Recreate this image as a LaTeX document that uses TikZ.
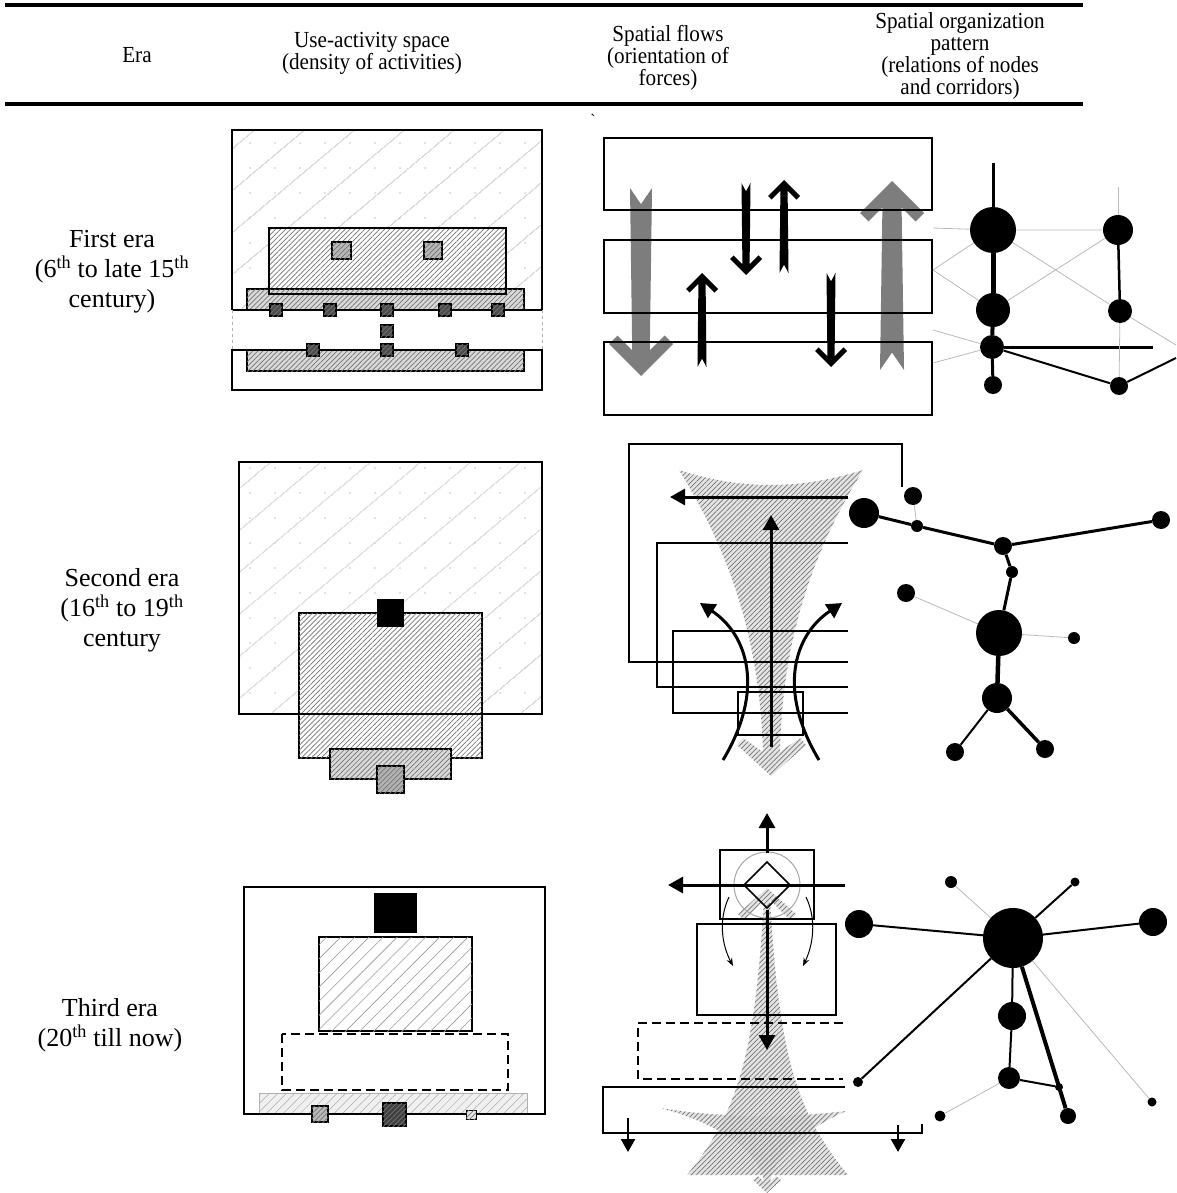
\documentclass[tikz,border=0pt]{standalone}
\usepackage{fontspec}
\setmainfont{Liberation Serif}
\newfontfamily\hdrfont[FakeStretch=0.92]{Liberation Serif}
\usetikzlibrary{arrows.meta,patterns.meta}
\pgfdeclarelayer{bg}
\pgfsetlayers{bg,main}

\tikzset{
  hdr/.style={font=\hdrfont\fontsize{23}{22}\selectfont, align=center, inner sep=0pt},
  eralabel/.style={font=\fontsize{26}{30}\selectfont, align=center, inner sep=0pt},
  sparsehatch/.style={pattern={Lines[angle=40,distance=33pt,line width=0.7pt]}, pattern color=gray!80},
  dotgrid/.style={pattern={Dots[distance=25pt,radius=0.8pt]}, pattern color=gray!45},
  densehatch/.style={pattern={Lines[angle=45,distance=3.5pt,line width=0.7pt]}, pattern color=black!55},
  block/.style={draw, line width=2pt, fill=white, postaction={densehatch}},
  stripbox/.style={draw, line width=1.8pt, fill=gray!30, postaction={densehatch}},
  cell/.style={draw, line width=1.2pt, fill=#1, postaction={densehatch}},
  city/.style={circle, fill=black, inner sep=0pt, minimum size=#1},
  road/.style={line width=#1},
  link/.style={draw=gray!55, line width=0.8pt},
  force/.style={line width=3pt, -{Triangle[length=15pt,width=16pt]}},
  flowzone/.style={fill=gray!30, fill opacity=0.7, postaction={densehatch}},
}

% x, tail y, tip y, half shaft, half head, arm width, fill options
\newcommand{\fatarrow}[7]{%
  \pgfmathsetmacro{\fs}{(#3-(#2))/abs(#3-(#2))}%
  \pgfmathsetmacro{\fn}{#2+\fs*(1.2*#4+3)}%
  \pgfmathsetmacro{\fj}{#3-\fs*(1.414*#6+0.8*#4)}%
  \pgfmathsetmacro{\fax}{#5-0.707*#6}%
  \pgfmathsetmacro{\fay}{#3-\fs*(#5+0.707*#6)}%
  \pgfmathsetmacro{\fby}{#3-\fs*#5}%
  \fill[#7] (#1-#4,#2) -- (#1,\fn) -- (#1+#4,#2) -- (#1+0.8*#4,\fj) -- (#1+\fax,\fay)
    -- (#1+#5,\fby) -- (#1,#3) -- (#1-#5,\fby) -- (#1-\fax,\fay) -- (#1-0.8*#4,\fj) -- cycle;
}

\begin{document}
\begin{tikzpicture}[x=1pt,y=-1pt]
\useasboundingbox (0,0) rectangle (1176,1193);

% header
\draw[line width=4pt] (5,5) -- (1083,5);
\draw[line width=4pt] (5,104) -- (1083,104);
\node[hdr] (hEra) at (137,55) {Era};
\node[hdr] (hUse) at (372,53) {Use-activity space\\(density of activities)};
\node[hdr] (hFlow) at (668,58) {Spatial flows\\(orientation of\\forces)};
\node[hdr] (hOrg) at (960,56) {Spatial organization\\pattern\\(relations of nodes\\and corridors)};
\node[font=\fontsize{16}{16}\selectfont, inner sep=0pt] (tick) at (593,120) {\textasciigrave};

\node[eralabel] (eraOne) at (112,272) {First era\\(6\textsuperscript{th} to late 15\textsuperscript{th}\\century)};
\node[eralabel] (eraTwo) at (122,610) {Second era\\(16\textsuperscript{th} to 19\textsuperscript{th}\\century};
\node[eralabel] (eraThree) at (110,1025) {Third era\\(20\textsuperscript{th} till now)};

% first era: use-activity space
\path[sparsehatch] (232,130) rectangle (542,310);
\path[dotgrid] (232,130) rectangle (542,310);
\draw[line width=2pt] (232,310) -- (232,130) -- (542,130) -- (542,310);
\draw[block] (269,228) rectangle (506,294);
\draw[cell=gray!55] (332,242) rectangle (351,259);
\draw[cell=gray!55] (424,242) rectangle (442,259);
\draw[stripbox] (247,289) rectangle (524,310);
\draw[line width=2pt] (269,228) rectangle (506,294);
\draw[line width=1.5pt] (232,310) -- (542,310);
\draw[stripbox] (247,350) rectangle (524,371);
\draw[line width=2pt] (232,350) rectangle (542,390);
\draw[gray!60, line width=1pt, dashed] (232,310) -- (232,350) (542,310) -- (542,350);
\foreach \x in {276,330,387,445,498}
  \draw[cell=black!70] (\x-6,304) rectangle (\x+6,316);
\foreach \x/\y in {387/331,313/350,387/350,462/350}
  \draw[cell=black!70] (\x-6,\y-6) rectangle (\x+6,\y+6);

% first era: flows
\fatarrow{641}{188}{376}{11}{32}{12}{black!60, fill opacity=0.85}
\fatarrow{892}{370}{181}{12}{32}{12}{black!60, fill opacity=0.85}
\foreach \t/\b in {138/210,240/313,342/415}
  \draw[line width=1.5pt] (604,\t) rectangle (932,\b);
\fatarrow{746}{183}{275}{4.5}{16}{5}{black}
\fatarrow{784}{273}{180}{4.5}{16}{5}{black}
\fatarrow{702}{367}{273}{4.5}{16}{5}{black}
\fatarrow{831}{273}{367}{4.5}{16}{5}{black}

% first era: nodes and corridors
\node[city=46pt] (a1) at (993,230) {};
\node[city=30pt] (a2) at (1118,230) {};
\node[city=34pt] (a3) at (993,310) {};
\node[city=24pt] (a4) at (1120,311) {};
\node[city=24pt] (a5) at (992,347) {};
\node[city=18pt] (a6) at (993,385) {};
\node[city=18pt] (a7) at (1119,386) {};
\coordinate (a1top) at (993,163);
\coordinate (a2top) at (1118,187);
\coordinate (a5end) at (1153,347);
\coordinate (a7end) at (1176,358);
\coordinate (a4end) at (1176,345);
\coordinate (f1) at (933,228);
\coordinate (f2) at (933,270);
\coordinate (f3) at (933,330);
\coordinate (f4) at (933,363);
\begin{pgfonlayer}{bg}
\draw[road=3pt] (a1top) -- (a1);
\draw[road=5pt] (a1) -- (a3);
\draw[road=4pt] (a3) -- (a5);
\draw[road=3pt] (a5) -- (a6);
\draw[road=3pt] (a5) -- (a5end);
\draw[road=2pt] (a5) -- (a7) -- (a7end);
\draw[road=2.5pt] (a2) -- (a4);
\draw[link] (a2top) -- (a2);
\draw[link] (a4) -- (a7);
\draw[link] (f1) -- (a1) (a1) -- (a2);
\draw[link] (a1) -- (a4) (a4) -- (a4end);
\draw[link] (a3) -- (a2);
\draw[link] (f2) -- (a1) (f2) -- (a3);
\draw[link] (f3) -- (a5) (f4) -- (a5);
\end{pgfonlayer}

% second era: use-activity space
\path[sparsehatch] (239,462) rectangle (542,714);
\path[dotgrid] (239,462) rectangle (542,714);
\draw[block] (299,613) rectangle (482,758);
\draw[line width=2pt] (239,462) rectangle (542,714);
\fill (377,599) rectangle (404,627);
\draw[stripbox, line width=1.5pt] (330,749) rectangle (451,779);
\draw[cell=gray!60] (377,766) rectangle (404,793);

% second era: flows
\fill[flowzone] (679,470) .. controls (740,490) and (800,490) .. (863,470)
  .. controls (807,560) and (782,650) .. (780,752) -- (800,738) -- (806,745) -- (771,776)
  -- (737,745) -- (743,738) -- (763,752) .. controls (760,650) and (735,560) .. (679,470) -- cycle;
\draw[line width=1.5pt] (848,662) -- (629,662) -- (629,444) -- (902,444) -- (902,487);
\draw[line width=1.5pt] (848,543) -- (657,543) -- (657,687) -- (848,687);
\draw[line width=1.5pt] (848,631) -- (673,631) -- (673,713) -- (848,713);
\draw[line width=1.2pt] (738,692) rectangle (803,735);
\draw[force] (771,747) -- (771,515);
\draw[force] (848,497) -- (670,497);
\draw[force] (723,760) .. controls (765,690) and (748,635) .. (700,603);
\draw[force] (819,760) .. controls (777,690) and (794,635) .. (842,603);

% second era: nodes and corridors
\node[city=30pt] (b1) at (864,513) {};
\node[city=18pt] (b2) at (913,496) {};
\node[city=12pt] (b3) at (917,526) {};
\node[city=18pt] (b4) at (1003,546) {};
\node[city=12pt] (b5) at (1012,572) {};
\node[city=18pt] (b6) at (1161,520) {};
\node[city=46pt] (b7) at (999,633) {};
\node[city=18pt] (b8) at (906,593) {};
\node[city=12pt] (b9) at (1074,638) {};
\node[city=30pt] (b10) at (997,698) {};
\node[city=18pt] (b11) at (955,752) {};
\node[city=18pt] (b12) at (1045,749) {};
\begin{pgfonlayer}{bg}
\draw[road=3pt] (b1) -- (b3);
\draw[road=3pt] (b3) -- (b4);
\draw[road=3pt] (b4) -- (b6);
\draw[road=3pt] (b4) -- (b5);
\draw[road=3pt] (b5) -- (b7);
\draw[road=4.5pt] (b7) -- (b10);
\draw[road=2pt] (b10) -- (b11);
\draw[road=3.5pt] (b10) -- (b12);
\draw[link] (b2) -- (b3);
\draw[link] (b7) -- (b8);
\draw[link] (b7) -- (b9);
\end{pgfonlayer}

% third era: use-activity space
\fill (374,893) rectangle (417,933);
\draw[line width=2pt, fill=white, postaction={pattern={Lines[angle=45,distance=10pt,line width=0.6pt]}, pattern color=gray!80}] (319,937) rectangle (472,1031);
\draw[line width=2pt, dash pattern=on 9pt off 5pt] (282,1034) rectangle (508,1090);
\draw[gray!60, line width=0.8pt, fill=gray!12, postaction={pattern={Lines[angle=45,distance=6pt,line width=0.5pt]}, pattern color=gray!65}] (259,1093) rectangle (527,1114);
\draw[line width=2pt] (244,887) rectangle (545,1114);
\draw[cell=gray!55] (312,1106) rectangle (328,1122);
\draw[cell=black!75] (383,1103) rectangle (406,1126);
\draw[cell=gray!20, line width=0.8pt] (466,1110) rectangle (476,1119);

% third era: flows
\fill[flowzone] (767,888) -- (796,914) -- (790,920) -- (770,900)
  .. controls (779,1050) and (794,1110) .. (848,1175) -- (687,1175)
  .. controls (740,1110) and (755,1050) .. (764,900) -- (744,920) -- (738,914) -- cycle;
\fill[flowzone] (660,1108) .. controls (720,1118) and (790,1118) .. (846,1111)
  .. controls (815,1125) and (775,1150) .. (770,1182) -- (776,1176) -- (781,1180) -- (767,1193)
  -- (753,1180) -- (758,1176) -- (764,1182) .. controls (759,1150) and (715,1122) .. (660,1108) -- cycle;
\draw[line width=1.5pt] (720,850) rectangle (814,919);
\draw[line width=1.5pt] (697,924) rectangle (836,1015);
\draw[gray!70, line width=1pt] (767,885) circle[radius=33];
\draw[line width=1.5pt] (767,862) -- (790,885) -- (767,908) -- (744,885) -- cycle;
\draw[line width=2pt, dash pattern=on 9pt off 5pt] (843,1023) -- (638,1023) -- (638,1079) -- (843,1079);
\draw[line width=1.5pt] (845,1087) -- (603,1087) -- (603,1133) -- (922,1133) -- (922,1124);
\draw[force] (767,853) -- (767,813);
\draw[force] (845,885) -- (668,885);
\draw[force] (767,910) -- (767,1050);
\draw[line width=2.5pt, -{Triangle[length=13pt,width=14pt]}] (628,1118) -- (628,1152);
\draw[line width=2.5pt, -{Triangle[length=13pt,width=14pt]}] (898,1125) -- (898,1152);
\draw[line width=1pt, -{Stealth[length=8pt,width=6pt]}] (729,897) .. controls (718,920) and (722,945) .. (733,966);
\draw[line width=1pt, -{Stealth[length=8pt,width=6pt]}] (806,897) .. controls (817,920) and (813,945) .. (803,966);

% third era: nodes and corridors
\node[city=60pt] (c1) at (1013,938) {};
\node[city=28pt] (c2) at (859,924) {};
\node[city=28pt] (c3) at (1153,922) {};
\node[city=12pt] (c4) at (951,882) {};
\node[city=9pt] (c5) at (1075,882) {};
\node[city=10pt] (c6) at (858,1082) {};
\node[city=28pt] (c7) at (1012,1016) {};
\node[city=22pt] (c8) at (1009,1078) {};
\node[city=8pt] (c9) at (1059,1087) {};
\node[city=16pt] (c10) at (1068,1116) {};
\node[city=11pt] (c11) at (940,1116) {};
\node[city=9pt] (c12) at (1152,1102) {};
\begin{pgfonlayer}{bg}
\draw[road=2pt] (c1) -- (c2);
\draw[road=2pt] (c1) -- (c3);
\draw[road=2pt] (c1) -- (c5);
\draw[road=2pt] (c1) -- (c6);
\draw[road=2pt] (c1) -- (c7);
\draw[road=2pt] (c7) -- (c8);
\draw[road=2pt] (c8) -- (c9);
\draw[road=4pt] (c1) -- (c10);
\draw[link] (c1) -- (c4);
\draw[link] (c8) -- (c11);
\draw[link] (c1) -- (c12);
\end{pgfonlayer}
\end{tikzpicture}
\end{document}
